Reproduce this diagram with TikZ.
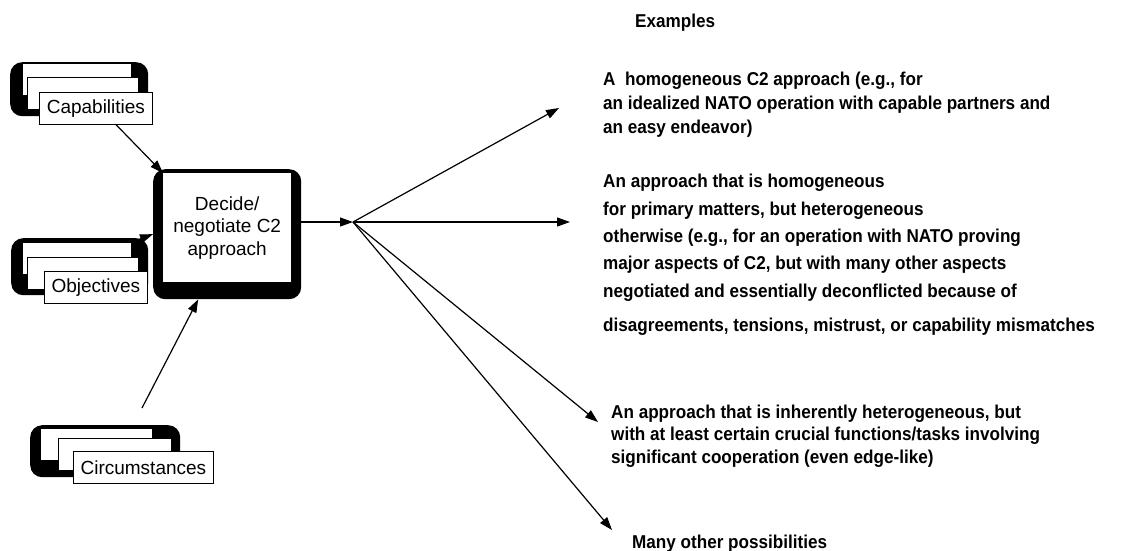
\documentclass[tikz,border=0pt]{standalone}
\usepackage{fontspec}
\setmainfont{Liberation Sans}
\newfontfamily\exfont[FakeStretch=0.92]{Liberation Sans}
\usetikzlibrary{arrows.meta,calc,positioning}
\tikzset{
  blob/.style={fill=black,rounded corners=12pt,inner sep=0pt,anchor=north west},
  card/.style={draw,line width=0.8pt,fill=white,inner sep=0pt,anchor=north west,minimum height=32pt,font=\fontsize{19}{22}\selectfont},
  mainbox/.style={fill=white,inner sep=0pt,anchor=north west,align=center,font=\fontsize{19}{22.5}\selectfont},
  edge/.style={-{Triangle[length=13pt,width=9pt]},line width=1.2pt},
  extext/.style={anchor=base west,align=left,inner sep=0pt,font=\exfont\bfseries\fontsize{18.6}{24}\selectfont}
}

\begin{document}
\begin{tikzpicture}[x=1pt,y=-1pt]
\useasboundingbox (0,0) rectangle (1121,551);

% input stacks
\node[blob,minimum width=138pt,minimum height=54pt] (capbg) at (10,62) {};
\node[card,minimum width=109pt] (cap1) at (22,63) {};
\node[card,minimum width=111pt] (cap2) at (27,77) {};
\node[card,minimum width=113pt] (cap) at (39,92) {Capabilities};

\node[blob,minimum width=137pt,minimum height=57pt] (objbg) at (11,238) {};
\node[card,minimum width=109pt] (obj1) at (22,242) {};
\node[card,minimum width=111pt] (obj2) at (27,257) {};
\node[card,minimum width=103pt] (obj) at (44,271) {Objectives};

\node[blob,minimum width=150pt,minimum height=52pt] (circbg) at (30,425) {};
\node[card,minimum width=112pt] (circ1) at (40,428) {};
\node[card,minimum width=113pt] (circ2) at (58,438) {};
\node[card,minimum width=140pt] (circ) at (73,451) {Circumstances};

% decision box
\node[blob,minimum width=148pt,minimum height=130pt] (mainbg) at (153,169) {};
\node[mainbox,minimum width=128pt,minimum height=109pt] (main) at (163,173) {Decide/\\negotiate C2\\approach};

% inputs
\coordinate (circtop) at (142,408);
\draw[edge] (cap.-39) -- (main.north west);
\draw[edge] (obj1.north east) -- (mainbg.west);
\draw[edge] (circtop) -- (mainbg.-114);

% fan out
\coordinate (hub) at (353,222);
\coordinate (t1) at (559,108);
\coordinate (t2) at (570,222);
\coordinate (t3) at (598,422);
\coordinate (t4) at (612,530);
\draw[edge] (mainbg.east |- hub) -- (hub);
\foreach \t in {t1,t2,t3,t4}
  \draw[edge] (hub) -- (\t);

% examples (base = last line)
\node[extext] (exhead) at (635,28) {Examples};
\node[extext] (ex1) at (603,133) {A\ \ homogeneous C2 approach (e.g., for\\
  an idealized NATO operation with capable partners and\\
  an easy endeavor)};
\node[extext,font=\exfont\bfseries\fontsize{18.6}{27.3}\selectfont] (ex2) at (603,331) {An approach that is homogeneous\\
  for primary matters, but heterogeneous\\
  otherwise (e.g., for an operation with NATO proving\\
  major aspects of C2, but with many other aspects\\
  negotiated and essentially deconflicted because of\\[6.7pt]
  disagreements, tensions, mistrust, or capability mismatches};
\node[extext,font=\exfont\bfseries\fontsize{18.6}{22.5}\selectfont] (ex3) at (611,463) {An approach that is inherently heterogeneous, but\\
  with at least certain crucial functions/tasks involving\\
  significant cooperation (even edge-like)};
\node[extext] (ex4) at (632,548) {Many other possibilities};
\end{tikzpicture}
\end{document}
